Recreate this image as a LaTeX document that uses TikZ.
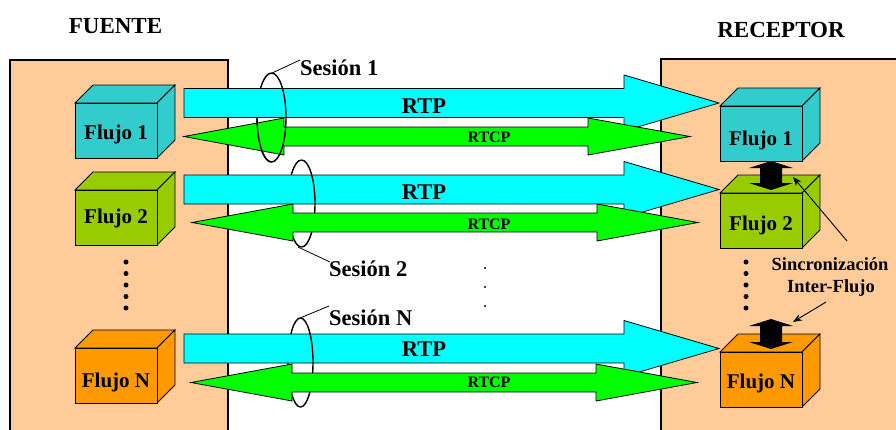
\documentclass[tikz,border=0pt]{standalone}
\usepackage{fontspec}
\setmainfont{Liberation Serif}
\usetikzlibrary{arrows.meta}
\definecolor{panelfill}{HTML}{FFCC99}
\definecolor{cubeA}{HTML}{33CCCC}
\definecolor{cubeB}{HTML}{99CC00}
\definecolor{cubeC}{HTML}{FF9900}
\definecolor{rtpfill}{HTML}{00FFFF}
\definecolor{rtcpfill}{HTML}{00FF00}

% cube: name, x, y (front face top-left), fill, label baseline, label
\newcommand\cubo[6]{%
  \filldraw[cubeline, fill=#4] (#2,#3) -- ++(18,-18) -- ++(82,0) -- ++(-18,18) -- cycle;
  \filldraw[cubeline, fill=#4] (#2+82,#3) -- ++(18,-18) -- ++(0,55) -- ++(-18,18) -- cycle;
  \filldraw[cubeline, fill=#4] (#2,#3) rectangle ++(82,55);
  \node[flujotext, anchor=base] (#1) at (#2+41,#5) {#6};
}
% RTP block arrow: centre line y
\newcommand\rtparrow[1]{%
  \filldraw[rtpshape] (184,#1-14.5) -- (624,#1-14.5) -- (624,#1-28) -- (719,#1)
    -- (624,#1+28) -- (624,#1+14.5) -- (184,#1+14.5) -- cycle;
}
% RTCP double block arrow: y, left tip, left base, right base, right tip
\newcommand\rtcparrow[5]{%
  \filldraw[rtcpshape] (#2,#1) -- (#3,#1-18.5) -- (#3,#1-9.5) -- (#4,#1-9.5) -- (#4,#1-18.5)
    -- (#5,#1) -- (#4,#1+18.5) -- (#4,#1+9.5) -- (#3,#1+9.5) -- (#3,#1+18.5) -- cycle;
}
% half rings: cx, cy, rx, ry
\newcommand\ringleft[4]{%
  \begin{scope}\clip (0,0) rectangle (#1,429);
    \draw[ring] (#1,#2) ellipse [x radius=#3, y radius=#4];
  \end{scope}}
\newcommand\ringright[4]{%
  \begin{scope}\clip (#1,0) rectangle (896,429);
    \draw[ring] (#1,#2) ellipse [x radius=#3, y radius=#4];
  \end{scope}}
% vertical double arrow: cx, top tip, bottom tip
\newcommand\syncarrow[3]{%
  \fill[black] (#1,#2) -- (#1+22,#2+7) -- (#1+11,#2+7) -- (#1+11,#3-7) -- (#1+22,#3-7)
    -- (#1,#3) -- (#1-22,#3-7) -- (#1-11,#3-7) -- (#1-11,#2+7) -- (#1-22,#2+7) -- cycle;
}

\begin{document}
\begin{tikzpicture}[x=1pt, y=-1pt,
  cubeline/.style={draw=black, line width=0.8pt, line join=miter},
  panel/.style={fill=panelfill, draw=black, line width=2pt},
  rtpshape/.style={fill=rtpfill, draw=black, line width=0.8pt},
  rtcpshape/.style={fill=rtcpfill, draw=black, line width=0.8pt},
  ring/.style={draw=black, line width=1.4pt},
  leader/.style={draw=black, line width=0.8pt},
  pointer/.style={draw=black, line width=0.9pt, -{Stealth[length=9pt, width=7pt]}},
  title/.style={font=\fontsize{23}{23}\selectfont\bfseries, inner sep=0pt},
  flujotext/.style={font=\fontsize{21}{21}\selectfont\bfseries, inner sep=0pt},
  rtptext/.style={font=\fontsize{22.5}{22.5}\selectfont\bfseries, inner sep=0pt},
  rtcptext/.style={font=\fontsize{16}{16}\selectfont\bfseries, inner sep=0pt},
  sesion/.style={font=\fontsize{22.5}{22.5}\selectfont\bfseries, inner sep=0pt, anchor=base west},
  synctext/.style={font=\fontsize{18.5}{18.5}\selectfont\bfseries, inner sep=0pt, anchor=base},
  dot/.style={fill=black}]
\useasboundingbox (0,0) rectangle (896,429);
\clip (0,0) rectangle (896,429);
\fill[white] (0,0) rectangle (896,429);

% source and receiver panels
\draw[panel] (10,60) rectangle (228,445);
\draw[panel] (661,59) rectangle (910,445);
\node[title, anchor=base] (fuente) at (115.5,33) {FUENTE};
\node[title, anchor=base] (receptor) at (781,37) {RECEPTOR};

% streams at the source
\cubo{lf1}{75}{103}{cubeA}{139}{Flujo 1}
\cubo{lf2}{75}{190}{cubeB}{223}{Flujo 2}
\cubo{lfn}{75}{348}{cubeC}{387}{Flujo N}
% streams at the receiver
\cubo{rf1}{720}{106}{cubeA}{145.5}{Flujo 1}
\cubo{rf2}{720}{193}{cubeB}{230}{Flujo 2}
\cubo{rfn}{720}{352}{cubeC}{388}{Flujo N}

% vertical ellipsis dots
\foreach \yy in {262,273.5,285,296.5,308} {
  \fill[dot] (126,\yy) circle [radius=2.5];
  \fill[dot] (746,\yy) circle [radius=2.5];
}
\foreach \yy in {268,287,306} \fill[dot] (485,\yy) circle [radius=1.2];

% session 1
\ringleft{271.5}{117.5}{14.5}{44.5}
\rtparrow{103}
\rtcparrow{136.5}{184}{284}{588}{690}
\begin{scope}\clip (0,118.2) rectangle (271.5,429);
  \draw[ring] (271.5,117.5) ellipse [x radius=14.5, y radius=44.5];
\end{scope}
\ringright{271.5}{117.5}{14.5}{44.5}

% session 2
\ringleft{301.5}{203.5}{13.5}{43.5}
\rtparrow{189.5}
\ringright{301.5}{203.5}{13.5}{43.5}
\rtcparrow{222.5}{192}{293}{597}{698}

% session N
\ringleft{300.5}{362.5}{12.5}{44.5}
\rtparrow{348.5}
\ringright{300.5}{362.5}{12.5}{44.5}
\rtcparrow{382.5}{191}{292}{596}{697}

% arrow labels
\node[rtptext, anchor=base] (rtp1) at (424,113.3) {RTP};
\node[rtptext, anchor=base] (rtp2) at (424,199.3) {RTP};
\node[rtptext, anchor=base] (rtpn) at (424,356) {RTP};
\node[rtcptext, anchor=base] (rtcp1) at (489,142.7) {RTCP};
\node[rtcptext, anchor=base] (rtcp2) at (489,229) {RTCP};
\node[rtcptext, anchor=base] (rtcpn) at (489,387.7) {RTCP};

% session labels and leaders
\node[sesion] (s1) at (300,75) {Sesión 1};
\node[sesion] (s2) at (329,276) {Sesión 2};
\node[sesion] (sn) at (329,325) {Sesión N};
\coordinate (r1top) at (270,74);
\coordinate (s1end) at (300,60);
\coordinate (r2bot) at (298,247);
\coordinate (s2end) at (330,262);
\coordinate (rntop) at (300,318);
\coordinate (snend) at (329,306);
\draw[leader] (r1top) -- (s1end);
\draw[leader] (r2bot) -- (s2end);
\draw[leader] (rntop) -- (snend);

% inter-stream synchronisation
\syncarrow{771}{161}{190}
\syncarrow{771}{319}{349}
\node[synctext] (sinc) at (830,270) {Sincronización};
\node[synctext] (inter) at (831,292.7) {Inter-Flujo};
\coordinate (pA) at (847,241);
\coordinate (tA) at (793,177);
\coordinate (pB) at (826,302);
\coordinate (tB) at (793,322);
\draw[pointer] (pA) -- (tA);
\draw[pointer] (pB) -- (tB);
\end{tikzpicture}
\end{document}
